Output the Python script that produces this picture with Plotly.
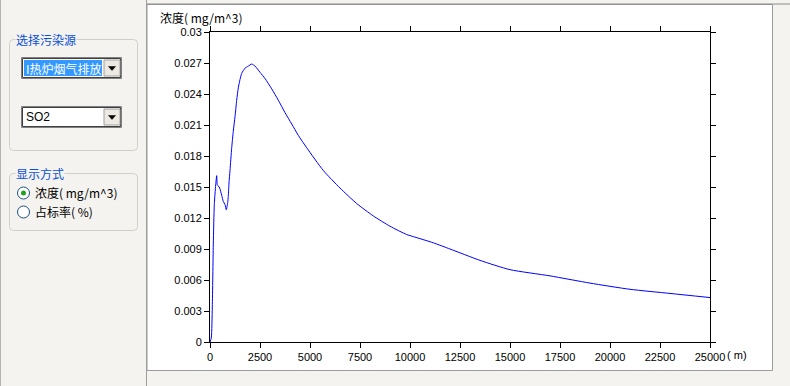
import plotly.graph_objects as go

# ---- data ----
distance_m = [0, 65, 115, 165, 215, 285, 335, 365, 415, 485, 585, 665, 750, 815, 885, 915, 950,
              1000, 1085, 1165, 1250, 1335, 1415, 1500, 1585, 1750, 1915, 2085, 2250, 2500, 2750,
              3085, 3415, 3750, 4085, 4415, 4835, 5665, 6500, 7335, 8165, 9000, 9835, 10165,
              11165, 12000, 13500, 15000, 17000, 19000, 21000, 23000, 25000]
concentration = [0.0, 0.0004, 0.0034, 0.0094, 0.0133, 0.0152, 0.0161, 0.0152, 0.0151, 0.0149,
                 0.0142, 0.0136, 0.0133, 0.0128, 0.0135, 0.0141, 0.0154, 0.0166, 0.0188, 0.0204,
                 0.0218, 0.0234, 0.0246, 0.0254, 0.0260, 0.0265, 0.0267, 0.0269, 0.0267, 0.0261,
                 0.0255, 0.0245, 0.0234, 0.0222, 0.0211, 0.0200, 0.0188, 0.0166, 0.0149, 0.0134,
                 0.0122, 0.0112, 0.0104, 0.0102, 0.0096, 0.0090, 0.0079, 0.0070, 0.0064, 0.0057,
                 0.0051, 0.0047, 0.0043]
x_tickvals = [0, 2500, 5000, 7500, 10000, 12500, 15000, 17500, 20000, 22500, 25000]
x_ticktext = ["0", "2500", "5000", "7500", "10000", "12500", "15000", "17500", "20000", "22500", "25000"]
y_tickvals = [0, 0.003, 0.006, 0.009, 0.012, 0.015, 0.018, 0.021, 0.024, 0.027, 0.03]
y_ticktext = ["0", "0.003", "0.006", "0.009", "0.012", "0.015", "0.018", "0.021", "0.024", "0.027", "0.03"]
y_title = "浓度( mg/m^3)"
x_unit = "( m)"
group1_title = "选择污染源"
source_text = "I热炉烟气排放"
pollutant_text = "SO2"
group2_title = "显示方式"
radio_labels = ["浓度( mg/m^3)", "占标率( %)"]

# ---- layout geometry (pixels) ----
W, H = 790, 386
L, R, T, B = 210, 710, 32, 342
BG = "#f4f3ef"
CJK = "Noto Sans CJK SC"
LAT = "Liberation Sans"


def X(px):
    return (px - L) / (R - L)


def Y(py):
    return (B - py) / (B - T)


shapes = []
annots = []


def rect(x0, y0, x1, y1, fill=None, line=None, lw=1, layer="above"):
    shapes.append(dict(type="rect", xref="paper", yref="paper", x0=X(x0), x1=X(x1), y0=Y(y1), y1=Y(y0),
                       fillcolor=fill if fill else "rgba(0,0,0,0)", layer=layer,
                       line=dict(color=line if line else "rgba(0,0,0,0)", width=lw if line else 0)))


def hline(x0, x1, y, color, lw=1):
    shapes.append(dict(type="line", xref="paper", yref="paper", x0=X(x0), x1=X(x1), y0=Y(y), y1=Y(y),
                       line=dict(color=color, width=lw), layer="below"))


def vline(x, y0, y1, color, lw=1):
    shapes.append(dict(type="line", xref="paper", yref="paper", x0=X(x), x1=X(x), y0=Y(y0), y1=Y(y1),
                       line=dict(color=color, width=lw), layer="below"))


def rounded(x0, y0, x1, y1, r, color):
    p = (f"M {X(x0+r)},{Y(y0)} L {X(x1-r)},{Y(y0)} Q {X(x1)},{Y(y0)} {X(x1)},{Y(y0+r)} "
         f"L {X(x1)},{Y(y1-r)} Q {X(x1)},{Y(y1)} {X(x1-r)},{Y(y1)} "
         f"L {X(x0+r)},{Y(y1)} Q {X(x0)},{Y(y1)} {X(x0)},{Y(y1-r)} "
         f"L {X(x0)},{Y(y0+r)} Q {X(x0)},{Y(y0)} {X(x0+r)},{Y(y0)} Z")
    shapes.append(dict(type="path", xref="paper", yref="paper", path=p, line=dict(color=color, width=1)))


def text(px, py, s, size=12, color="black", font=CJK, anchor="left", bg=None):
    annots.append(dict(xref="paper", yref="paper", x=X(px), y=Y(py), text=s, showarrow=False,
                       xanchor=anchor, yanchor="middle", font=dict(family=font, size=size, color=color),
                       bgcolor=bg if bg else "rgba(0,0,0,0)", borderpad=0))


# white chart panel (below the plot)
rect(147, 4.5, 772.5, 370.5, fill="white", line="#9c9c9c", layer="below")
hline(147, 790, 4, "#8a8a8a")
vline(146.5, 0, 386, "#9c9c9c")
vline(0.5, 0, 386, "#b4b4b4")

# group box 1
rounded(9.5, 39.5, 137.5, 150.5, 4, "#d0d0c6")
text(15, 40, group1_title, color="#0a50d8", bg=BG)
# combo 1
rect(21.5, 57.5, 121.5, 78.5, fill="white", line="#808080")
rect(22.5, 58.5, 120.5, 77.5, line="#404040")
rect(24, 60, 102, 76, fill="#3399ff")
text(25, 68.5, source_text, color="white")
rect(104, 60, 120, 76, fill="#ece9e2", line="#a0a0a0")
shapes.append(dict(type="path", xref="paper", yref="paper",
                   path=f"M {X(108.5)},{Y(66.5)} L {X(115.5)},{Y(66.5)} L {X(112)},{Y(70.5)} Z",
                   fillcolor="black", line=dict(color="black", width=0.5)))
# combo 2
rect(21.5, 106.5, 121.5, 127.5, fill="white", line="#808080")
rect(22.5, 107.5, 120.5, 126.5, line="#404040")
text(25, 117.5, pollutant_text, font=LAT, size=12)
rect(104, 109, 120, 125, fill="#ece9e2", line="#a0a0a0")
shapes.append(dict(type="path", xref="paper", yref="paper",
                   path=f"M {X(108.5)},{Y(115.5)} L {X(115.5)},{Y(115.5)} L {X(112)},{Y(119.5)} Z",
                   fillcolor="black", line=dict(color="black", width=0.5)))

# group box 2
rounded(9.5, 173.5, 137.5, 230.5, 4, "#d0d0c6")
text(15, 173, group2_title, color="#0a50d8", bg=BG)
for i, (lab, cy) in enumerate(zip(radio_labels, [193, 212])):
    shapes.append(dict(type="circle", xref="paper", yref="paper", x0=X(17.5), x1=X(29.5),
                       y0=Y(cy + 6), y1=Y(cy - 6), fillcolor="white", line=dict(color="#1c5180", width=1)))
    if i == 0:
        shapes.append(dict(type="circle", xref="paper", yref="paper", x0=X(21), x1=X(26),
                           y0=Y(cy + 2.5), y1=Y(cy - 2.5), fillcolor="#21a121", line=dict(color="#21a121", width=0)))
    text(34, cy, lab)

# axis title and unit
text(159, 17, y_title)
text(726, 355, x_unit, font=LAT, size=11)

fig = go.Figure(go.Scatter(x=distance_m, y=concentration, mode="lines",
                           line=dict(color="#0000ff", width=1, shape="spline", smoothing=0.6),
                           hoverinfo="skip"))

axis_common = dict(showgrid=False, zeroline=False, showline=True, linecolor="black", linewidth=1,
                   mirror="ticks", ticks="outside", ticklen=5, tickwidth=1, tickcolor="black",
                   tickfont=dict(family=LAT, size=11, color="black"))
fig.update_layout(
    width=W, height=H,
    margin=dict(l=L, r=W - R, t=T, b=H - B, pad=0),
    paper_bgcolor=BG, plot_bgcolor="white",
    showlegend=False,
    xaxis=dict(range=[0, 25000], tickvals=x_tickvals, ticktext=x_ticktext, **axis_common),
    yaxis=dict(range=[0, 0.03], tickvals=y_tickvals, ticktext=y_ticktext, **axis_common),
    shapes=shapes, annotations=annots,
)
fig.write_html("out.html", config={"displayModeBar": False},
               post_script="document.body.style.margin='0';document.body.style.overflow='hidden';")
